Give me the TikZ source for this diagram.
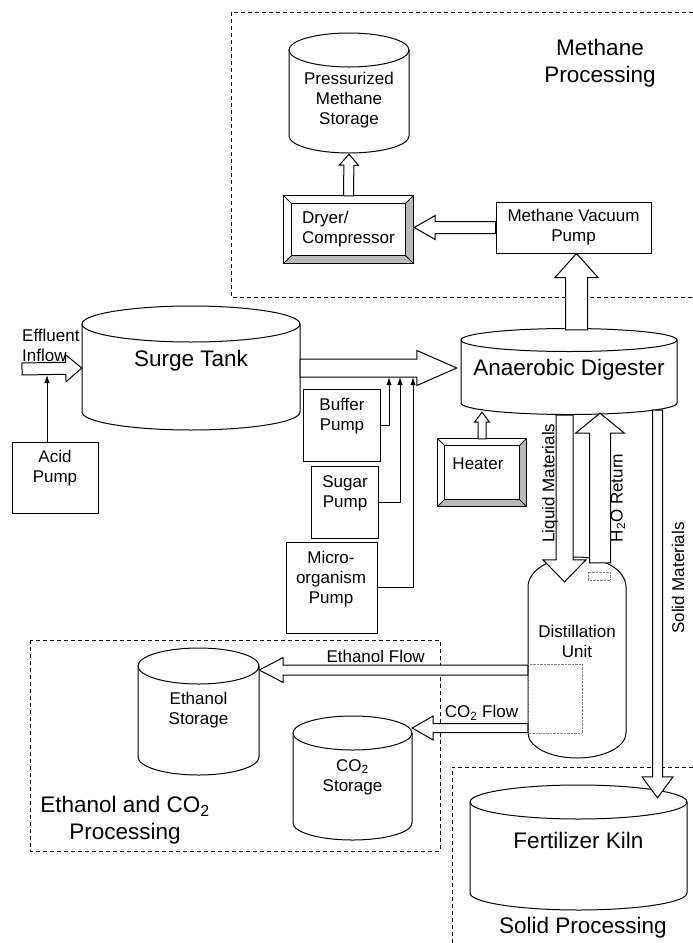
\documentclass[tikz,border=0pt]{standalone}
\usepackage{fontspec}
\setmainfont{Liberation Sans}
\usetikzlibrary{calc}
\usetikzlibrary{arrows.meta}
\usetikzlibrary{positioning}

\tikzset{
  lbl/.style={font=\fontsize{17}{20}\selectfont, align=center, inner sep=0pt},
  big/.style={font=\fontsize{22.5}{27}\selectfont, align=center, inner sep=0pt},
  region/.style={line width=0.8pt, dash pattern=on 4pt off 3pt},
  unit/.style={draw, line width=1pt, inner sep=0pt},
  tankline/.style={line width=1pt},
  feed/.style={line width=1pt, -{Latex[length=8pt,width=5.5pt]}},
  bevelshade/.style={fill=gray!55},
}

% cylinder: name, cx, top y, bottom y, rx, ry, text y, text, text style
\newcommand\tank[9]{%
  \draw[tankline] ({#2-#5},#3) -- ({#2-#5},#4) arc[start angle=180, end angle=0, x radius=#5, y radius=#6] -- ({#2+#5},#3);
  \draw[tankline] (#2,#3) ellipse [x radius=#5, y radius=#6];
  \node[inner sep=0pt, minimum width={2*#5}, minimum height={#4-#3}] (#1) at (#2,{(#3+#4)/2}) {};
  \node[#9] (#1-t) at (#2,#7) {#8};}

% hollow block arrow: from, to, half shaft, half head, head length
\newcommand\fatarrow[5]{%
  \coordinate (fat) at #1; \coordinate (fap) at #2;
  \coordinate (fah) at ($(fap)!#5pt!(fat)$);
  \draw[tankline, fill=white] ($(fat)!#3pt!90:(fap)$) -- ($(fah)!#3pt!-90:(fat)$) -- ($(fah)!#4pt!-90:(fat)$) -- (fap)
     -- ($(fah)!#4pt!90:(fat)$) -- ($(fah)!#3pt!90:(fat)$) -- ($(fat)!#3pt!-90:(fap)$) -- cycle;}

% bevelled frame round a named node: node, inset
\newcommand\bevel[2]{%
  \fill[bevelshade] (#1.north east) -- (#1.south east) -- ($(#1.south east)+(-#2,-#2)$) -- ($(#1.north east)+(-#2,#2)$) -- cycle;
  \fill[bevelshade] (#1.south west) -- (#1.south east) -- ($(#1.south east)+(-#2,-#2)$) -- ($(#1.south west)+(#2,-#2)$) -- cycle;
  \draw[tankline] ($(#1.north west)+(#2,#2)$) rectangle ($(#1.south east)+(-#2,-#2)$);
  \draw[tankline] (#1.north west) -- ++(#2,#2) (#1.north east) -- ++(-#2,#2) (#1.south west) -- ++(#2,-#2) (#1.south east) -- ++(-#2,-#2);
  \draw[tankline] (#1.north west) rectangle (#1.south east);}

\begin{document}
\begin{tikzpicture}[x=1pt, y=-1pt]
    \useasboundingbox (0,0) rectangle (693,943);

    % Methane Processing
    \draw[region] (693,12) -- (231,12) -- (231,297) -- (693,297);
    \node[big] (meth-lbl) at (600,63) {Methane\\Processing};
    \tank{store}{349}{50}{136}{60}{17}{100}{Pressurized\\Methane\\Storage}{lbl}
    \node[lbl, align=left, minimum width=129, minimum height=67] (dryer) at (348.5,229.5) {Dryer/\\Compressor};
    \bevel{dryer}{8}
    \node[unit, lbl, minimum width=155, minimum height=51] (vac) at (573.5,227.5) {Methane Vacuum\\Pump};

    % Ethanol and CO2 Processing
    \draw[region] (30,640) rectangle (440,851);
    \node[big] (eth-lbl) at (125,820) {Ethanol and CO\textsubscript{2}\\Processing};
    \tank{eth}{198.5}{666}{757}{60.5}{18}{710}{Ethanol\\Storage}{lbl}
    \tank{co2}{352.5}{733}{823}{59.5}{17}{777}{CO\textsubscript{2}\\Storage}{lbl}

    % Solid Processing
    \draw[region] (693,767) -- (452,767) -- (452,943);
    \node[big] (sol-lbl) at (583,928) {Solid Processing};
    \tank{kiln}{578.5}{802}{893}{108.5}{17}{840}{Fertilizer Kiln}{big}

    % Main line
    \tank{surge}{191}{324}{412}{109}{18}{361}{Surge Tank}{big}
    \tank{dig}{569}{340}{403}{108}{11.5}{370}{Anaerobic Digester}{big}
    \draw[tankline] (528,587) arc[start angle=180, end angle=360, x radius=49, y radius=30] -- (626,733)
        arc[start angle=0, end angle=180, x radius=49, y radius=25] -- cycle;
    \node[inner sep=0pt, minimum width=98, minimum height=146] (dist) at (577,660) {};
    \node[lbl] (dist-t) at (577,641) {Distillation\\Unit};
    \draw[gray, densely dotted] ($(dist.west)+(0,4)$) rectangle ($(dist.west)+(54,73)$);

    % Pumps and heater
    \node[unit, minimum width=86, minimum height=71] (acid) at (55,477.5) {};
    \node[lbl] (acid-t) at (55,468) {Acid\\Pump};
    \node[unit, minimum width=77, minimum height=72] (buffer) at (341.5,425) {};
    \node[lbl] (buffer-t) at (342,416.5) {Buffer\\Pump};
    \node[unit, minimum width=67, minimum height=72] (sugar) at (344.5,502) {};
    \node[lbl] (sugar-t) at (345,493) {Sugar\\Pump};
    \node[unit, minimum width=91, minimum height=91] (micro) at (331.5,587.5) {};
    \node[lbl] (micro-t) at (331,579) {Micro-\\organism\\Pump};
    \node[inner sep=0pt, minimum width=88, minimum height=67] (heater) at (482,472.5) {};
    \bevel{heater}{7}
    \node[lbl] (heater-t) at (478,464) {Heater};

    % Inflow
    \node[lbl, align=left, anchor=west] (inflow-t) at (22,345) {Effluent\\Inflow};
    \coordinate (inflow) at (22,369);
    \coordinate (acidin) at (47,375);
    \fatarrow{(inflow)}{(surge.west)}{6}{13.5}{16}
    \draw[feed] (acid.north -| acidin) -- (acidin);

    % Feed to digester
    \fatarrow{(surge.east)}{($(surge.east -| dig.west)+(-4,0)$)}{9}{17.5}{40}
    \coordinate (mix1) at (389,377);
    \coordinate (mix2) at (400,377);
    \coordinate (mix3) at (413,377);
    \draw[feed] (buffer.east) -| (mix1);
    \draw[feed] (sugar.east) -| (mix2);
    \draw[feed] (micro.east) -| (mix3);
    \fatarrow{(heater.north)}{($(dig.south -| heater.north)+(0,9)$)}{4}{7.5}{10}

    % Methane line
    \fatarrow{($(dig.north)+(7.5,-10)$)}{($(vac.south)+(3,0)$)}{11}{21.5}{24}
    \fatarrow{(vac.west)}{($(dryer.east |- vac.west)+(1,0)$)}{6}{12}{21}
    \fatarrow{(dryer.north)}{($(store.south)+(0,18)$)}{5}{9.5}{11}

    % Liquid, water and solids
    \fatarrow{($(dig.south)+(-4.5,12)$)}{($(dist.north)+(-12.5,-5)$)}{8.5}{21.5}{22}
    \fatarrow{($(dist.north)+(23,-24)$)}{($(dig.south)+(31,10)$)}{10.5}{24.5}{20}
    \draw[gray, densely dotted] (588,572) rectangle (610,580);
    \fatarrow{($(dig.south)+(88.5,7)$)}{($(kiln.north)+(79,-4)$)}{5}{15.5}{21}
    \node[lbl, rotate=90] (liq-t) at (550,483) {Liquid Materials};
    \node[lbl, rotate=90] (h2o-t) at (618,498) {H\textsubscript{2}O Return};
    \node[lbl, rotate=90] (sol-t) at (678,578) {Solid Materials};

    % Ethanol and CO2 out
    \coordinate (ethout) at ($(dist.west)+(0,10)$);
    \coordinate (co2out) at ($(dist.west)+(0,68)$);
    \fatarrow{(ethout)}{(eth.east |- ethout)}{5}{12.5}{24}
    \fatarrow{(co2out)}{(co2.east |- co2out)}{4.5}{12}{21}
    \node[lbl, anchor=east] (ethflow-t) at (425,656) {Ethanol Flow};
    \node[lbl] (co2flow-t) at (481.5,713) {CO\textsubscript{2} Flow};
\end{tikzpicture}
\end{document}
